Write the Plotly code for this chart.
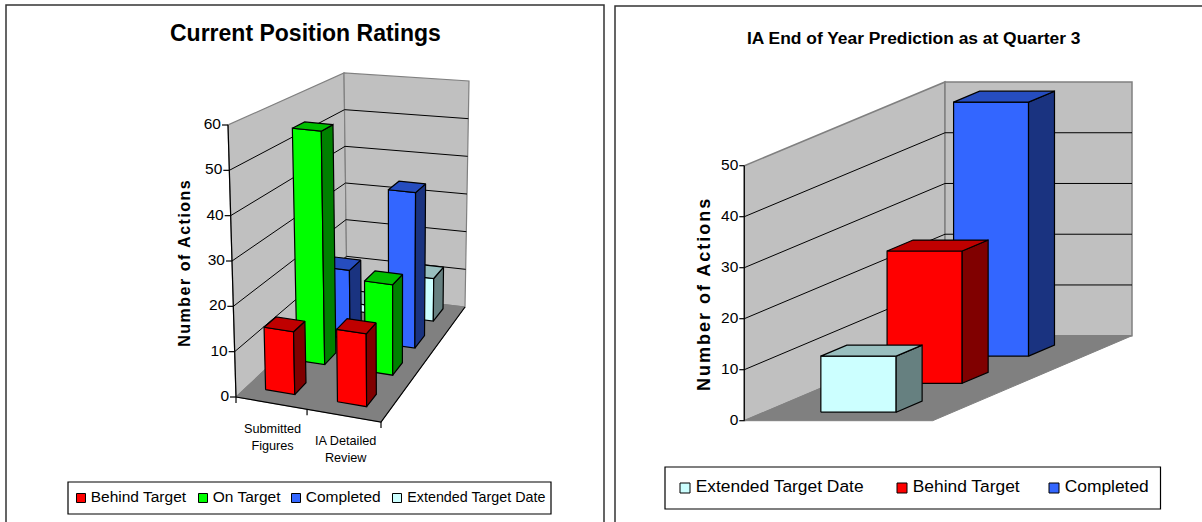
import plotly.graph_objects as go

FONT = "Liberation Sans"

# Current Position Ratings: actions per review stage
stages = ["Submitted<br>Figures", "IA Detailed<br>Review"]
behind_target = [14, 16]
on_target = [55, 21]
completed = [17, 38]
extended_target = [2, 11]

# End of year prediction: one column per outcome
prediction_names = ["Extended Target Date", "Behind Target", "Completed"]
prediction_values = [11, 26, 50]

ticks_left = [0, 10, 20, 30, 40, 50, 60]
ticks_right = [0, 10, 20, 30, 40, 50]

PALETTE = {
    "Behind Target": ("#FF0000", "#800000", "#BF0000"),
    "On Target": ("#00FF00", "#008000", "#00BF00"),
    "Completed": ("#3366FF", "#1A3380", "#264DBF"),
    "Extended Target Date": ("#CCFFFF", "#668080", "#99BFBF"),
}
WALL, FLOOR, EDGE = "#C0C0C0", "#808080", "#808080"


def projector(corners, top):
    """Map (across, depth, value) inside the plot box to screen pixels."""
    def project(u, v, value):
        w = value / top
        x = y = 0.0
        for (cu, cv, cw), (px, py) in corners.items():
            k = (u if cu else 1 - u) * (v if cv else 1 - v) * (w if cw else 1 - w)
            x += k * px
            y += k * py
        return x, y
    return project


fig = go.Figure()


def polygon(points, fill, line="#000000", width=1.2):
    xs, ys = zip(*(points + points[:1]))
    fig.add_trace(go.Scatter(
        x=xs, y=ys, mode="lines", fill="toself", fillcolor=fill,
        line=dict(color=line, width=width), hoverinfo="skip", showlegend=False,
    ))


def path(points, color="#000000", width=1.0):
    xs, ys = zip(*points)
    fig.add_trace(go.Scatter(
        x=xs, y=ys, mode="lines", line=dict(color=color, width=width),
        hoverinfo="skip", showlegend=False,
    ))


def box(p, u0, u1, v0, v1, value, colours):
    front, side, lid = colours
    polygon([p(u0, v0, 0), p(u1, v0, 0), p(u1, v0, value), p(u0, v0, value)], front)
    polygon([p(u1, v0, 0), p(u1, v1, 0), p(u1, v1, value), p(u1, v0, value)], side)
    polygon([p(u0, v0, value), p(u1, v0, value), p(u1, v1, value), p(u0, v1, value)], lid)


def room(p, ticks, top, tick_len, font_size, wall_width=1.2):
    polygon([p(0, 0, 0), p(0, 1, 0), p(0, 1, top), p(0, 0, top)], WALL, EDGE, wall_width)
    polygon([p(0, 1, 0), p(1, 1, 0), p(1, 1, top), p(0, 1, top)], WALL, EDGE, wall_width)
    polygon([p(0, 0, 0), p(1, 0, 0), p(1, 1, 0), p(0, 1, 0)], FLOOR, EDGE, 1.0)
    for t in ticks:
        if 0 < t < top:
            path([p(0, 0, t), p(0, 1, t), p(1, 1, t)], "#000000", 1.0)
    path([p(0, 0, 0), p(0, 0, top)], "#000000", 1.2)
    for t in ticks:
        x, y = p(0, 0, t)
        path([(x - tick_len, y), (x, y)], "#000000", 1.2)
    fig.add_trace(go.Scatter(
        x=[p(0, 0, t)[0] - tick_len - 1 for t in ticks],
        y=[p(0, 0, t)[1] for t in ticks],
        mode="text", text=[str(t) for t in ticks], textposition="middle left",
        textfont=dict(family=FONT, size=font_size, color="#000000"),
        hoverinfo="skip", showlegend=False,
    ))


def legend_entry(name, x, y, size, text_size, gap):
    fig.add_trace(go.Scatter(
        x=[x], y=[y], mode="markers",
        marker=dict(symbol="square", size=size, color=PALETTE[name][0],
                    line=dict(color="#000000", width=1)),
        name=name, hoverinfo="skip", showlegend=False,
    ))
    fig.add_trace(go.Scatter(
        x=[x + gap], y=[y], mode="text", text=[name], textposition="middle right",
        textfont=dict(family=FONT, size=text_size, color="#000000"),
        name=name, hoverinfo="skip", showlegend=False,
    ))


def frame(x0, y0, x1, y1, color="#000000", width=1.2):
    return dict(type="rect", xref="x", yref="y", x0=x0, y0=y0, x1=x1, y1=y1,
                line=dict(color=color, width=width), fillcolor="#FFFFFF", layer="below")


def label(text, x, y, size, bold=False, angle=0):
    fig.add_annotation(
        x=x, y=y, xref="x", yref="y", text=f"<b>{text}</b>" if bold else text,
        showarrow=False, textangle=angle, align="center",
        font=dict(family=FONT, size=size, color="#000000"),
    )


# Left panel: four rows of columns, two stages across
left = projector({
    (0, 0, 0): (236, 397), (1, 0, 0): (381, 422),
    (0, 1, 0): (347, 293), (1, 1, 0): (465, 307),
    (0, 0, 1): (228, 125), (1, 0, 1): (380, 142),
    (0, 1, 1): (344, 73), (1, 1, 1): (469, 81),
}, 60)
room(left, ticks_left, 60, 6, 15.5)

# series, values, depth of the row's front, sideways nudge of the row
rows = [
    ("Extended Target Date", extended_target, 0.855, 0.0),
    ("Completed", completed, 0.62, 0.018),
    ("On Target", on_target, 0.38, 0.01),
    ("Behind Target", behind_target, 0.10, 0.0),
]
spans = [(0.13, 0.335), (0.635, 0.84)]
for name, values, v0, nudge in rows:
    for (u0, u1), value in zip(spans, values):
        box(left, u0 + nudge, u1 + nudge, v0, v0 + 0.11, value, PALETTE[name])

path([left(0, 0, 0), left(1, 0, 0), left(1, 1, 0)], "#000000", 1.2)
for u in (0, 0.49, 1):
    x, y = left(u, 0, 0)
    path([(x, y), (x, y + 6)], "#000000", 1.2)

label(stages[0], 272, 437, 12.7)
label(stages[1], 345, 449, 12.7)

# Right panel: a single row of columns per outcome
right = projector({
    (0, 0, 0): (744.3, 420.7), (1, 0, 0): (932.7, 420.7),
    (0, 1, 0): (945, 335.7), (1, 1, 0): (1132, 335.7),
    (0, 0, 1): (744.3, 165.7), (1, 0, 1): (932.7, 165.7),
    (0, 1, 1): (945, 82), (1, 1, 1): (1132, 82),
}, 50)
room(right, ticks_right, 50, 5, 15.5, 1.5)

depth_starts = [0.10, 0.44, 0.76]
column_starts = [0.30, 0.29, 0.303]
for i in reversed(range(len(prediction_names))):
    name = prediction_names[i]
    box(right, column_starts[i], column_starts[i] + 0.40,
        depth_starts[i], depth_starts[i] + 0.13,
        prediction_values[i], PALETTE[name])

# Legends
legend_entry("Behind Target", 81, 498, 9, 15.5, 9.7)
legend_entry("On Target", 203, 498, 9, 15.5, 9.7)
legend_entry("Completed", 296, 498, 9, 15.5, 9.7)
legend_entry("Extended Target Date", 397, 498, 9, 14.3, 10.3)
legend_entry("Extended Target Date", 685, 488, 10, 17.4, 10.7)
legend_entry("Behind Target", 902, 488, 10, 17.4, 10.7)
legend_entry("Completed", 1054, 488, 10, 17.4, 10.7)

label("Current Position Ratings", 305, 33, 23, bold=True)
label("IA End of Year Prediction as at Quarter 3", 914, 38, 17.4, bold=True)
label("Number of Actions", 184, 263, 16, bold=True, angle=-90)
label("Number of Actions", 704, 294, 18, bold=True, angle=-90)

fig.update_layout(
    width=1202, height=522, margin=dict(l=0, r=0, t=0, b=0),
    paper_bgcolor="#FFFFFF", plot_bgcolor="#FFFFFF", showlegend=False,
    xaxis=dict(range=[0, 1202], visible=False, fixedrange=True),
    yaxis=dict(range=[522, 0], visible=False, fixedrange=True),
    shapes=[
        frame(6, 5, 604, 530, "#333333", 1.5),
        frame(615, 6, 1210, 530, "#333333", 1.5),
        frame(68, 482, 551, 514),
        frame(665, 467, 1160.5, 509),
    ],
)

# Letter spacing for the rotated axis titles
spacing_script = """
document.querySelectorAll('.annotation-text').forEach(function (t) {
  if (t.textContent === 'Number of Actions') {
    var size = parseFloat(t.style.fontSize);
    t.style.letterSpacing = size > 17 ? '2px' : '1.5px';
  }
});
"""
fig.write_html("out.html", config={"displayModeBar": False}, post_script=spacing_script)
